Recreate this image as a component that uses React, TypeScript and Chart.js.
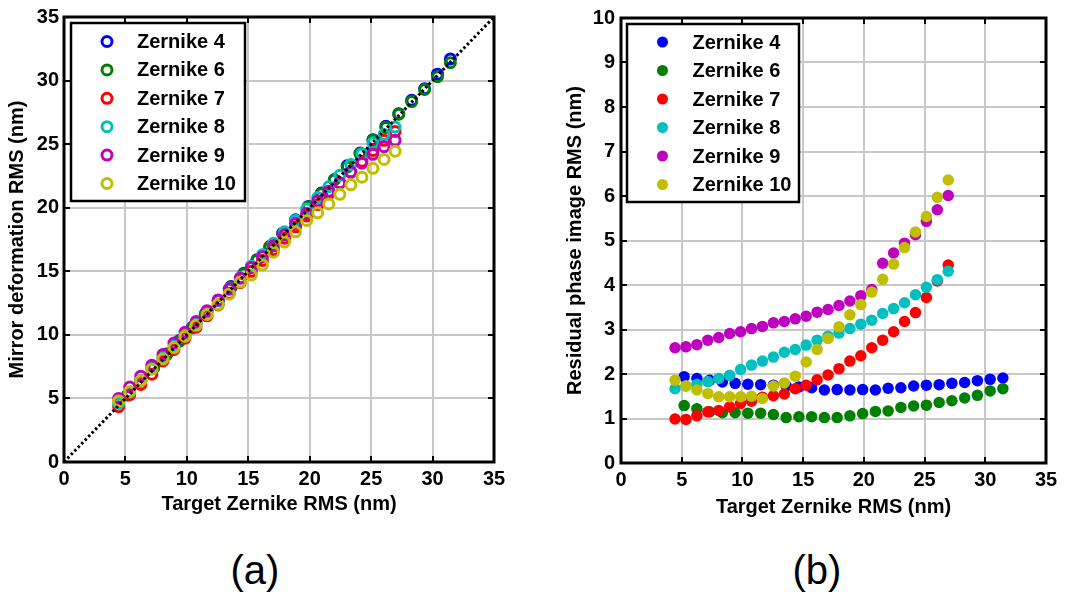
import React, { useEffect, useRef } from 'react';
import { Chart, registerables } from 'chart.js';

Chart.register(...registerables);

const FONT = '"Liberation Sans", Arial, Helvetica, sans-serif';

// ---------- data ----------
const seriesLabels = ['Zernike 4', 'Zernike 6', 'Zernike 7', 'Zernike 8', 'Zernike 9', 'Zernike 10'];
const seriesColors = ['#0000ff', '#008000', '#ff0000', '#00bfbf', '#bf00bf', '#bfbf00'];

// target RMS for Zernike 4 and 6
const targetA = [5.2, 6.25, 7.3, 8.35, 9.4, 10.45, 11.5, 12.55, 13.6, 14.65, 15.7, 16.75, 17.8, 18.85, 19.9, 20.95, 22.0, 23.05, 24.1, 25.15, 26.2, 27.25, 28.3, 29.35, 30.4, 31.45];
// target RMS for Zernike 7, 8, 9, 10
const targetB = [4.45, 5.35, 6.25, 7.15, 8.05, 8.95, 9.85, 10.75, 11.65, 12.55, 13.45, 14.35, 15.25, 16.15, 17.05, 17.95, 18.85, 19.75, 20.65, 21.55, 22.45, 23.35, 24.25, 25.15, 26.05, 26.95];

// (a) mirror deformation RMS (nm)
const mirror4 = [5.3, 6.4, 7.45, 8.5, 9.55, 10.6, 11.65, 12.7, 13.8, 14.85, 15.9, 16.95, 18.0, 19.05, 20.1, 21.15, 22.2, 23.3, 24.3, 25.35, 26.4, 27.4, 28.45, 29.35, 30.5, 31.7];
const mirror6 = [5.25, 6.35, 7.4, 8.45, 9.5, 10.55, 11.6, 12.7, 13.75, 14.8, 15.85, 16.9, 17.95, 19.0, 20.05, 21.1, 22.2, 23.2, 24.25, 25.3, 26.3, 27.35, 28.35, 29.3, 30.3, 31.4];
const mirror7 = [4.35, 5.3, 6.1, 6.9, 7.95, 8.85, 9.75, 10.6, 11.5, 12.35, 13.25, 14.1, 15.0, 15.85, 16.7, 17.6, 18.5, 19.35, 20.25, 21.1, 21.95, 22.8, 23.65, 24.5, 25.3, 26.0];
const mirror8 = [4.6, 5.5, 6.4, 7.35, 8.2, 9.1, 10.0, 10.9, 11.8, 12.7, 13.6, 14.5, 15.4, 16.3, 17.2, 18.1, 19.0, 19.9, 20.8, 21.65, 22.55, 23.4, 24.25, 25.1, 25.75, 26.35];
const mirror9 = [5.0, 5.9, 6.75, 7.6, 8.45, 9.35, 10.2, 11.05, 11.9, 12.75, 13.6, 14.45, 15.3, 16.15, 17.0, 17.85, 18.75, 19.55, 20.55, 21.3, 21.95, 22.8, 23.5, 24.2, 24.8, 25.3];
const mirror10 = [4.8, 5.55, 6.4, 7.3, 8.1, 9.0, 9.9, 10.75, 11.6, 12.4, 13.2, 14.15, 14.7, 15.5, 16.5, 17.3, 18.1, 19.0, 19.6, 20.3, 21.05, 21.8, 22.4, 23.1, 23.8, 24.45];
const refLineX = [0, 35];
const refLineY = [0, 35];

// (b) residual phase image RMS (nm)
const resid4 = [1.94, 1.9, 1.86, 1.82, 1.79, 1.77, 1.76, 1.75, 1.73, 1.71, 1.69, 1.64, 1.65, 1.64, 1.65, 1.64, 1.68, 1.69, 1.73, 1.75, 1.76, 1.79, 1.81, 1.85, 1.88, 1.91];
const resid6 = [1.29, 1.22, 1.15, 1.13, 1.13, 1.12, 1.12, 1.09, 1.02, 1.04, 1.04, 1.02, 1.02, 1.06, 1.11, 1.16, 1.17, 1.25, 1.28, 1.3, 1.36, 1.4, 1.46, 1.52, 1.62, 1.67];
const resid7 = [0.99, 0.98, 1.06, 1.15, 1.18, 1.26, 1.34, 1.39, 1.48, 1.51, 1.55, 1.67, 1.75, 1.87, 1.98, 2.12, 2.29, 2.41, 2.59, 2.76, 2.95, 3.18, 3.38, 3.72, 4.09, 4.45];
const resid8 = [1.67, 1.73, 1.77, 1.83, 1.9, 1.97, 2.1, 2.2, 2.29, 2.38, 2.49, 2.55, 2.65, 2.76, 2.85, 2.92, 3.02, 3.12, 3.21, 3.36, 3.47, 3.6, 3.78, 3.95, 4.12, 4.31];
const resid9 = [2.59, 2.61, 2.66, 2.76, 2.82, 2.91, 2.95, 3.02, 3.07, 3.15, 3.18, 3.24, 3.3, 3.39, 3.45, 3.54, 3.64, 3.76, 3.9, 4.49, 4.72, 4.94, 5.13, 5.43, 5.69, 6.01];
const resid10 = [1.86, 1.73, 1.64, 1.56, 1.49, 1.49, 1.49, 1.5, 1.45, 1.73, 1.8, 1.95, 2.27, 2.55, 2.8, 3.06, 3.33, 3.56, 3.84, 4.13, 4.47, 4.84, 5.19, 5.54, 5.97, 6.36];

const xTitle = 'Target Zernike RMS (nm)';
const yTitleA = 'Mirror deformation RMS (nm)';
const yTitleB = 'Residual phase image RMS (nm)';

// ---------- plugins ----------
const framePlugin = {
  id: 'matlabFrame',
  afterDatasetsDraw(chart: any) {
    const { ctx, chartArea: a, scales } = chart;
    const tl = 6;
    ctx.save();
    ctx.strokeStyle = '#000';
    ctx.lineWidth = 2;
    ctx.beginPath();
    scales.x.ticks.forEach((t: any) => {
      const px = Math.round(scales.x.getPixelForValue(t.value));
      ctx.moveTo(px, a.bottom);
      ctx.lineTo(px, a.bottom - tl);
      ctx.moveTo(px, a.top);
      ctx.lineTo(px, a.top + tl);
    });
    scales.y.ticks.forEach((t: any) => {
      const py = Math.round(scales.y.getPixelForValue(t.value));
      ctx.moveTo(a.left, py);
      ctx.lineTo(a.left + tl, py);
      ctx.moveTo(a.right, py);
      ctx.lineTo(a.right - tl, py);
    });
    ctx.stroke();
    ctx.lineWidth = 3;
    ctx.strokeRect(a.left, a.top, a.right - a.left, a.bottom - a.top);
    ctx.restore();
  },
};

const boxLegendPlugin = {
  id: 'boxLegend',
  afterDraw(chart: any, _args: any, opts: any) {
    const { ctx, chartArea: a } = chart;
    const items = chart.data.datasets.filter((d: any) => seriesLabels.includes(d.label));
    const bx = a.left + opts.offsetX;
    const by = a.top + opts.offsetY;
    ctx.save();
    ctx.fillStyle = '#fff';
    ctx.fillRect(bx, by, opts.width, opts.height);
    ctx.lineWidth = 2.5;
    ctx.strokeStyle = '#000';
    ctx.strokeRect(bx, by, opts.width, opts.height);
    items.forEach((d: any, i: number) => {
      const cy = by + opts.firstRow + i * opts.rowGap;
      const cx = bx + opts.markerX;
      ctx.beginPath();
      ctx.arc(cx, cy, opts.radius, 0, Math.PI * 2);
      if (opts.filled) {
        ctx.fillStyle = d.pointBorderColor;
        ctx.fill();
      } else {
        ctx.lineWidth = 3;
        ctx.strokeStyle = d.pointBorderColor;
        ctx.stroke();
      }
      ctx.fillStyle = '#000';
      ctx.font = `bold 20px ${FONT}`;
      ctx.textBaseline = 'middle';
      ctx.textAlign = 'left';
      ctx.fillText(d.label, bx + opts.textX, cy + 1);
    });
    ctx.restore();
  },
};

// ---------- panel ----------
type PanelProps = {
  left: number;
  width: number;
  height: number;
  plotLeft: number;
  plotRight: number;
  plotTop: number;
  plotBottom: number;
  yMax: number;
  yStep: number;
  yTitle: string;
  yTitlePad: number;
  yTickPad: number;
  xTitlePad: number;
  xs: number[][];
  ys: number[][];
  filled: boolean;
  withRef: boolean;
  legend: any;
};

function Panel(p: PanelProps) {
  const ref = useRef<HTMLCanvasElement | null>(null);
  useEffect(() => {
    if (!ref.current) return;
    const tickFont = { family: FONT, size: 20, weight: 'bold' as const };
    const datasets: any[] = p.ys.map((vals, i) => ({
      type: 'scatter',
      label: seriesLabels[i],
      data: vals.map((y, j) => ({ x: p.xs[i][j], y })),
      showLine: false,
      pointRadius: p.filled ? 5.75 : 5,
      pointBorderWidth: p.filled ? 0 : 3,
      pointBackgroundColor: p.filled ? seriesColors[i] : 'rgba(0,0,0,0)',
      pointBorderColor: seriesColors[i],
      backgroundColor: seriesColors[i],
      borderColor: seriesColors[i],
      order: -i,
      clip: false,
    }));
    if (p.withRef) {
      datasets.push({
        type: 'line',
        label: 'reference',
        data: refLineX.map((x, j) => ({ x, y: refLineY[j] })),
        borderColor: '#000',
        borderWidth: 3,
        borderDash: [2.5, 2.5],
        pointRadius: 0,
        fill: false,
        order: -20,
      });
    }
    const chart = new Chart(ref.current, {
      type: 'scatter',
      data: { datasets },
      plugins: [framePlugin, boxLegendPlugin],
      options: {
        animation: false,
        responsive: false,
        maintainAspectRatio: false,
        layout: { padding: { top: p.plotTop, right: p.width - p.plotRight, left: 0, bottom: 0 } },
        plugins: {
          legend: { display: false },
          tooltip: { enabled: false },
          boxLegend: { ...p.legend, filled: p.filled },
        } as any,
        scales: {
          x: {
            type: 'linear',
            min: 0,
            max: 35,
            ticks: { stepSize: 5, color: '#000', font: tickFont, padding: 5, maxRotation: 0 },
            grid: { color: '#c8c8c8', lineWidth: 2, drawTicks: false },
            border: { display: false },
            title: { display: true, text: xTitle, color: '#000', font: tickFont, padding: { top: 0, bottom: p.xTitlePad } },
            afterFit: (s: any) => {
              s.height = p.height - p.plotBottom;
            },
          },
          y: {
            type: 'linear',
            min: 0,
            max: p.yMax,
            ticks: { stepSize: p.yStep, color: '#000', font: tickFont, padding: p.yTickPad },
            grid: { color: '#c8c8c8', lineWidth: 2, drawTicks: false },
            border: { display: false },
            title: { display: true, text: p.yTitle, color: '#000', font: tickFont, padding: { top: p.yTitlePad, bottom: 0 } },
            afterFit: (s: any) => {
              s.width = p.plotLeft;
            },
          },
        },
      } as any,
    });
    return () => chart.destroy();
  }, []);
  return (
    <canvas
      ref={ref}
      width={p.width}
      height={p.height}
      style={{ position: 'absolute', left: p.left, top: 0, width: p.width, height: p.height }}
    />
  );
}

export default function App() {
  const captionStyle: React.CSSProperties = {
    position: 'absolute',
    top: 550,
    width: 120,
    textAlign: 'center',
    fontFamily: FONT,
    fontSize: 40,
    lineHeight: '40px',
    color: '#000',
  };
  return (
    <div style={{ position: 'absolute', left: 0, top: 0, width: 1083, height: 597, background: '#fff', overflow: 'hidden' }}>
      <Panel
        left={0}
        width={540}
        height={530}
        plotLeft={64}
        plotRight={494}
        plotTop={17}
        plotBottom={462}
        yMax={35}
        yStep={5}
        yTitle={yTitleA}
        yTitlePad={5}
        yTickPad={5}
        xTitlePad={14}
        xs={[targetA, targetA, targetB, targetB, targetB, targetB]}
        ys={[mirror4, mirror6, mirror7, mirror8, mirror9, mirror10]}
        filled={false}
        withRef={true}
        legend={{ offsetX: 7, offsetY: 6, width: 174, height: 178, markerX: 36, textX: 66, firstRow: 18.5, rowGap: 28.4, radius: 5 }}
      />
      <Panel
        left={540}
        width={543}
        height={530}
        plotLeft={81}
        plotRight={506}
        plotTop={17}
        plotBottom={463}
        yMax={10}
        yStep={1}
        yTitle={yTitleB}
        yTitlePad={23}
        yTickPad={6}
        xTitlePad={11}
        xs={[targetA, targetA, targetB, targetB, targetB, targetB]}
        ys={[resid4, resid6, resid7, resid8, resid9, resid10]}
        filled={true}
        withRef={false}
        legend={{ offsetX: 6, offsetY: 6, width: 172, height: 178, markerX: 35.5, textX: 65.5, firstRow: 18, rowGap: 28.5, radius: 5.5 }}
      />
      <div style={{ ...captionStyle, left: 255 - 60 }}>(a)</div>
      <div style={{ ...captionStyle, left: 817 - 60 }}>(b)</div>
    </div>
  );
}
